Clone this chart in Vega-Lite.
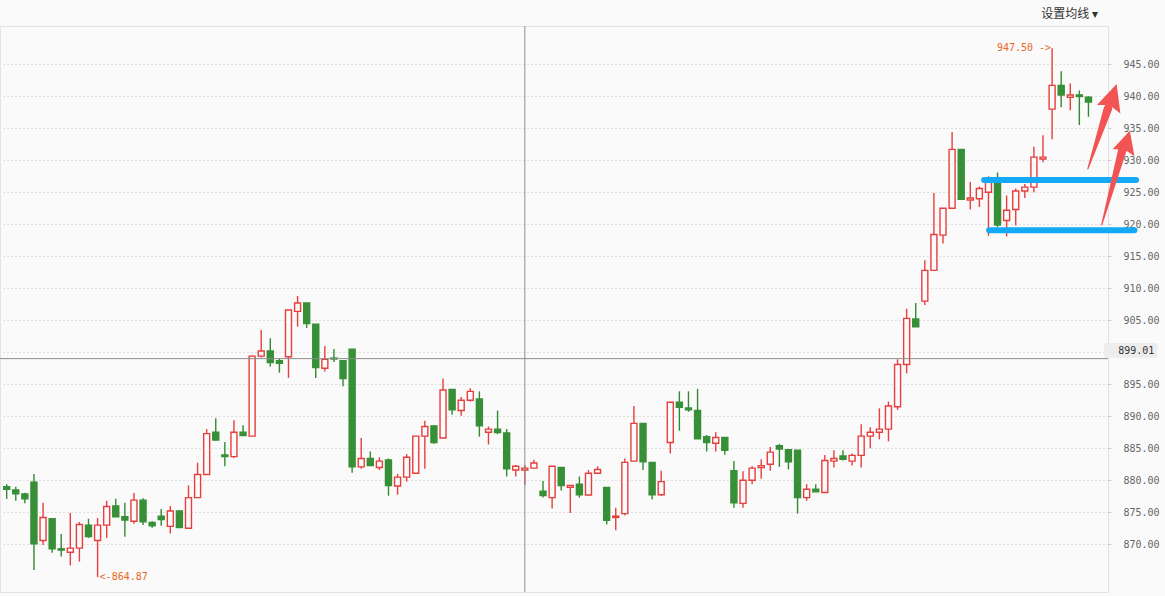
{
  "$schema": "https://vega.github.io/schema/vega-lite/v6.json",
  "width": 1108,
  "height": 566,
  "autosize": {"type": "none"},
  "padding": {"left": 0, "top": 26, "right": 57, "bottom": 4},
  "background": "#fafafa",
  "title": {"text": "设置均线 ▾", "anchor": "end", "frame": "group", "orient": "top", "offset": 5, "dx": -10, "font": "Noto Sans CJK SC", "fontSize": 12, "fontWeight": "normal", "color": "#333333"},
  "resolve": {"scale": {"x": "shared", "y": "shared"}, "axis": {"x": "independent", "y": "independent"}},
  "config": {
    "view": {"stroke": "#e4e4e4", "fill": "#fafafa"},
    "axisY": {"grid": true, "gridColor": "#c4c4c4", "gridDash": [1, 3], "gridWidth": 1, "domainColor": "#e0e0e0", "tickColor": "#cccccc", "tickSize": 3, "labelPadding": 12, "labelFont": "DejaVu Sans Mono", "labelFontSize": 10, "labelColor": "#666666", "labelBaseline": "middle", "labelAlign": "left", "labelOverlap": false}
  },
  "datasets": {
    "candles": [
      {"i":0,"o":879.0,"h":879.4,"l":877.1,"c":878.6},
      {"i":1,"o":878.5,"h":879.0,"l":876.8,"c":877.9},
      {"i":2,"o":877.86,"h":878.06,"l":876.4,"c":877.1},
      {"i":3,"o":879.7,"h":881.0,"l":866.0,"c":870.1},
      {"i":4,"o":870.6,"h":876.5,"l":869.9,"c":874.2},
      {"i":5,"o":874.0,"h":874.0,"l":868.7,"c":869.3},
      {"i":6,"o":869.3,"h":871.6,"l":868.1,"c":869.1},
      {"i":7,"o":868.75,"h":874.9,"l":866.7,"c":869.4},
      {"i":8,"o":869.4,"h":873.5,"l":867.3,"c":873.1},
      {"i":9,"o":873.0,"h":874.0,"l":871.0,"c":871.2},
      {"i":10,"o":870.6,"h":874.1,"l":864.87,"c":873.0},
      {"i":11,"o":873.0,"h":876.8,"l":871.0,"c":875.9},
      {"i":12,"o":876.0,"h":877.1,"l":874.3,"c":874.3},
      {"i":13,"o":874.3,"h":876.5,"l":871.2,"c":873.8},
      {"i":14,"o":873.6,"h":878.0,"l":873.2,"c":876.9},
      {"i":15,"o":876.9,"h":877.2,"l":873.0,"c":873.5},
      {"i":16,"o":873.4,"h":873.6,"l":872.6,"c":872.9},
      {"i":17,"o":874.4,"h":875.5,"l":872.9,"c":873.85},
      {"i":18,"o":872.8,"h":876.0,"l":871.7,"c":875.2},
      {"i":19,"o":875.2,"h":875.3,"l":872.6,"c":872.6},
      {"i":20,"o":872.5,"h":879.2,"l":872.5,"c":877.3},
      {"i":21,"o":877.3,"h":882.75,"l":877.3,"c":880.9},
      {"i":22,"o":880.9,"h":888.0,"l":880.9,"c":887.3},
      {"i":23,"o":887.5,"h":889.7,"l":886.2,"c":886.3},
      {"i":24,"o":883.95,"h":886.0,"l":882.2,"c":883.7},
      {"i":25,"o":883.7,"h":889.4,"l":883.5,"c":887.5},
      {"i":26,"o":887.5,"h":888.6,"l":887.0,"c":887.0},
      {"i":27,"o":886.9,"h":899.5,"l":886.9,"c":899.4},
      {"i":28,"o":899.4,"h":903.5,"l":899.2,"c":900.2},
      {"i":29,"o":900.2,"h":902.2,"l":897.75,"c":898.4},
      {"i":30,"o":898.7,"h":899.1,"l":896.8,"c":898.3},
      {"i":31,"o":899.3,"h":906.6,"l":896.0,"c":906.6},
      {"i":32,"o":906.4,"h":908.8,"l":904.0,"c":907.7},
      {"i":33,"o":907.7,"h":907.7,"l":903.8,"c":904.5},
      {"i":34,"o":904.4,"h":904.4,"l":896.0,"c":897.6},
      {"i":35,"o":897.5,"h":901.0,"l":897.0,"c":898.9},
      {"i":36,"o":899.1,"h":900.5,"l":898.5,"c":898.95},
      {"i":37,"o":898.7,"h":898.7,"l":894.7,"c":895.9},
      {"i":38,"o":900.5,"h":900.5,"l":881.2,"c":882.1},
      {"i":39,"o":882.1,"h":886.6,"l":881.8,"c":883.4},
      {"i":40,"o":883.4,"h":884.5,"l":882.3,"c":882.3},
      {"i":41,"o":882.0,"h":883.6,"l":881.6,"c":883.0},
      {"i":42,"o":883.2,"h":883.4,"l":877.6,"c":879.2},
      {"i":43,"o":879.1,"h":881.0,"l":877.75,"c":880.5},
      {"i":44,"o":880.5,"h":884.1,"l":879.8,"c":883.6},
      {"i":45,"o":881.1,"h":886.9,"l":881.1,"c":886.9},
      {"i":46,"o":886.9,"h":889.3,"l":881.8,"c":888.4},
      {"i":47,"o":888.5,"h":888.6,"l":885.7,"c":885.9},
      {"i":48,"o":886.6,"h":895.9,"l":886.6,"c":894.1},
      {"i":49,"o":894.2,"h":894.2,"l":890.25,"c":891.0},
      {"i":50,"o":890.9,"h":893.0,"l":890.1,"c":892.5},
      {"i":51,"o":892.5,"h":894.4,"l":892.3,"c":893.9},
      {"i":52,"o":892.7,"h":893.9,"l":886.8,"c":888.5},
      {"i":53,"o":887.5,"h":888.4,"l":885.6,"c":888.0},
      {"i":54,"o":888.0,"h":890.9,"l":887.2,"c":887.45},
      {"i":55,"o":887.4,"h":888.0,"l":880.6,"c":881.8},
      {"i":56,"o":881.6,"h":882.4,"l":880.6,"c":882.2},
      {"i":57,"o":881.6,"h":882.4,"l":879.3,"c":881.9},
      {"i":58,"o":881.9,"h":883.2,"l":881.9,"c":882.7},
      {"i":59,"o":878.3,"h":879.9,"l":877.3,"c":877.6},
      {"i":60,"o":877.3,"h":882.2,"l":875.6,"c":882.2},
      {"i":61,"o":882.0,"h":882.0,"l":878.4,"c":879.2},
      {"i":62,"o":878.9,"h":879.2,"l":874.9,"c":879.2},
      {"i":63,"o":879.4,"h":880.6,"l":877.3,"c":877.75},
      {"i":64,"o":877.7,"h":881.6,"l":877.7,"c":881.1},
      {"i":65,"o":881.1,"h":882.2,"l":881.1,"c":881.7},
      {"i":66,"o":878.9,"h":878.9,"l":873.1,"c":873.75},
      {"i":67,"o":874.2,"h":875.7,"l":872.2,"c":874.4},
      {"i":68,"o":874.8,"h":883.4,"l":874.5,"c":882.8},
      {"i":69,"o":883.0,"h":891.6,"l":883.0,"c":888.9},
      {"i":70,"o":888.9,"h":888.9,"l":881.6,"c":882.9},
      {"i":71,"o":882.8,"h":882.8,"l":877.0,"c":877.75},
      {"i":72,"o":877.75,"h":881.5,"l":877.6,"c":879.8},
      {"i":73,"o":885.9,"h":892.2,"l":884.2,"c":892.2},
      {"i":74,"o":892.2,"h":893.9,"l":887.75,"c":891.4},
      {"i":75,"o":891.3,"h":893.9,"l":890.7,"c":891.0},
      {"i":76,"o":890.9,"h":894.3,"l":886.5,"c":886.5},
      {"i":77,"o":886.8,"h":887.1,"l":884.5,"c":885.9},
      {"i":78,"o":885.8,"h":887.5,"l":884.5,"c":886.7},
      {"i":79,"o":886.7,"h":886.7,"l":884.0,"c":884.7},
      {"i":80,"o":881.5,"h":883.0,"l":875.7,"c":876.5},
      {"i":81,"o":876.4,"h":881.4,"l":875.7,"c":880.0},
      {"i":82,"o":880.0,"h":882.2,"l":879.4,"c":881.9},
      {"i":83,"o":882.0,"h":883.3,"l":880.25,"c":882.3},
      {"i":84,"o":882.5,"h":885.2,"l":881.5,"c":884.4},
      {"i":85,"o":885.4,"h":885.7,"l":882.1,"c":884.9},
      {"i":86,"o":884.8,"h":884.8,"l":881.7,"c":882.9},
      {"i":87,"o":884.7,"h":884.7,"l":874.8,"c":877.3},
      {"i":88,"o":877.3,"h":879.4,"l":876.8,"c":878.6},
      {"i":89,"o":878.6,"h":879.4,"l":878.2,"c":878.2},
      {"i":90,"o":878.1,"h":883.95,"l":878.1,"c":883.1},
      {"i":91,"o":883.0,"h":884.7,"l":882.0,"c":883.4},
      {"i":92,"o":883.8,"h":884.7,"l":883.1,"c":883.3},
      {"i":93,"o":883.0,"h":884.2,"l":882.3,"c":883.9},
      {"i":94,"o":883.9,"h":888.75,"l":882.0,"c":886.9},
      {"i":95,"o":886.9,"h":888.3,"l":885.0,"c":887.5},
      {"i":96,"o":887.5,"h":891.25,"l":886.4,"c":888.0},
      {"i":97,"o":888.0,"h":892.3,"l":886.1,"c":891.6},
      {"i":98,"o":891.5,"h":898.9,"l":891.0,"c":898.1},
      {"i":99,"o":898.1,"h":906.8,"l":896.7,"c":905.3},
      {"i":100,"o":905.2,"h":907.7,"l":904.0,"c":904.0},
      {"i":101,"o":908.0,"h":914.4,"l":907.4,"c":912.8},
      {"i":102,"o":912.8,"h":924.9,"l":912.8,"c":918.4},
      {"i":103,"o":918.3,"h":922.5,"l":917.0,"c":922.5},
      {"i":104,"o":922.5,"h":934.4,"l":922.5,"c":931.7},
      {"i":105,"o":931.7,"h":931.7,"l":923.9,"c":923.9},
      {"i":106,"o":923.8,"h":926.6,"l":922.3,"c":924.1},
      {"i":107,"o":924.0,"h":925.9,"l":922.7,"c":925.6},
      {"i":108,"o":925.0,"h":927.5,"l":918.2,"c":926.9},
      {"i":109,"o":926.4,"h":928.1,"l":919.6,"c":919.9},
      {"i":110,"o":920.6,"h":924.5,"l":918.1,"c":922.2},
      {"i":111,"o":922.3,"h":925.6,"l":919.8,"c":925.2},
      {"i":112,"o":925.2,"h":926.3,"l":924.1,"c":925.8},
      {"i":113,"o":925.8,"h":932.1,"l":925.0,"c":930.5},
      {"i":114,"o":930.2,"h":933.9,"l":929.7,"c":930.5},
      {"i":115,"o":938.0,"h":947.5,"l":933.3,"c":941.7},
      {"i":116,"o":941.7,"h":943.9,"l":938.3,"c":940.2},
      {"i":117,"o":939.85,"h":942.0,"l":937.8,"c":940.2},
      {"i":118,"o":940.2,"h":940.9,"l":935.5,"c":939.95},
      {"i":119,"o":939.85,"h":940.0,"l":936.8,"c":939.1}
    ]
  },
  "layer": [
    {
      "data": {"name": "candles"},
      "mark": {"type": "rule", "strokeWidth": 1.4},
      "encoding": {
        "x": {"field": "i", "type": "quantitative", "scale": {"domain": [-0.185, 120.6], "nice": false, "zero": false}, "axis": null, "title": null},
        "y": {"field": "l", "type": "quantitative", "title": null, "scale": {"domain": [862.55, 950.98], "nice": false, "zero": false},
              "axis": {"orient": "right", "values": [870, 875, 880, 885, 890, 895, 900, 905, 910, 915, 920, 925, 930, 935, 940, 945], "format": ".2f", "labelExpr": "datum.value == 900 ? '' : datum.label", "labelOverlap": false, "title": null}},
        "y2": {"field": "h"},
        "color": {"condition": {"test": "datum.c >= datum.o", "value": "#e83e3e"}, "value": "#318a31"}
      }
    },
    {
      "data": {"name": "candles"},
      "mark": {"type": "bar", "size": 6, "strokeWidth": 1.4},
      "encoding": {
        "x": {"field": "i", "type": "quantitative", "axis": null},
        "y": {"field": "o", "type": "quantitative", "axis": null},
        "y2": {"field": "c"},
        "fill": {"condition": {"test": "datum.c >= datum.o", "value": "#fafafa"}, "value": "#378f37"},
        "stroke": {"condition": {"test": "datum.c >= datum.o", "value": "#e83e3e"}, "value": "#378f37"}
      }
    },
    {
      "data": {"values": [{"i": 57}]},
      "mark": {"type": "rule", "color": "#8c8c8c", "strokeWidth": 1},
      "encoding": {"x": {"field": "i", "type": "quantitative", "axis": null}}
    },
    {
      "data": {"values": [{"v": 899.01}]},
      "mark": {"type": "rule", "color": "#8c8c8c", "strokeWidth": 1},
      "encoding": {"y": {"field": "v", "type": "quantitative", "axis": null}}
    },
    {
      "data": {"values": [{"x0": 107.52, "x1": 124.24, "v": 926.92}, {"x0": 108.07, "x1": 124.06, "v": 919.06}]},
      "mark": {"type": "rule", "color": "#14a9f4", "strokeWidth": 6, "strokeCap": "round"},
      "encoding": {
        "x": {"field": "x0", "type": "quantitative", "axis": null},
        "x2": {"field": "x1"},
        "y": {"field": "v", "type": "quantitative", "axis": null}
      }
    },
    {
      "data": {"values": [
        {"arrow": "a", "i": 118.93, "v": 928.64, "k": 0},
        {"arrow": "a", "i": 121.15, "v": 938.1, "k": 1},
        {"arrow": "b", "i": 120.46, "v": 919.9, "k": 0},
        {"arrow": "b", "i": 122.73, "v": 931.6, "k": 1}
      ]},
      "mark": {"type": "trail", "color": "#f25454"},
      "encoding": {
        "x": {"field": "i", "type": "quantitative", "axis": null},
        "y": {"field": "v", "type": "quantitative", "axis": null},
        "detail": {"field": "arrow"},
        "size": {"field": "k", "type": "quantitative", "scale": {"domain": [0, 1], "range": [1.2, 8.5]}, "legend": null}
      }
    },
    {
      "data": {"values": [{"i": 122.1, "v": 941.9}]},
      "mark": {"type": "point", "shape": "M0,0L0.5,1.02L0,0.85L-0.46,1Z", "size": 2704, "angle": 18.8, "filled": true, "opacity": 1, "color": "#f25454", "strokeWidth": 0},
      "encoding": {
        "x": {"field": "i", "type": "quantitative", "axis": null},
        "y": {"field": "v", "type": "quantitative", "axis": null}
      }
    },
    {
      "data": {"values": [{"i": 123.55, "v": 934.6}]},
      "mark": {"type": "point", "shape": "M0,0L0.52,1.02L0,0.85L-0.5,1Z", "size": 2025, "angle": 16.7, "filled": true, "opacity": 1, "color": "#f25454", "strokeWidth": 0},
      "encoding": {
        "x": {"field": "i", "type": "quantitative", "axis": null},
        "y": {"field": "v", "type": "quantitative", "axis": null}
      }
    },
    {
      "data": {"values": [{"i": 115, "v": 947.5, "t": "947.50 ->"}]},
      "mark": {"type": "text", "align": "right", "baseline": "middle", "dx": -1, "font": "DejaVu Sans Mono", "fontSize": 10, "color": "#e8671c"},
      "encoding": {
        "x": {"field": "i", "type": "quantitative", "axis": null},
        "y": {"field": "v", "type": "quantitative", "axis": null},
        "text": {"field": "t"}
      }
    },
    {
      "data": {"values": [{"i": 10, "v": 864.87, "t": "<-864.87"}]},
      "mark": {"type": "text", "align": "left", "baseline": "middle", "dx": 2, "font": "DejaVu Sans Mono", "fontSize": 10, "color": "#e8671c"},
      "encoding": {
        "x": {"field": "i", "type": "quantitative", "axis": null},
        "y": {"field": "v", "type": "quantitative", "axis": null},
        "text": {"field": "t"}
      }
    },
    {
      "data": {"values": [{"x0": 120.72, "x1": 126.57, "y0": 899.16, "y1": 901.45}]},
      "mark": {"type": "rect", "color": "#ededed", "cornerRadius": 2},
      "encoding": {
        "x": {"field": "x0", "type": "quantitative", "axis": null},
        "x2": {"field": "x1"},
        "y": {"field": "y0", "type": "quantitative", "axis": null},
        "y2": {"field": "y1"}
      }
    },
    {
      "data": {"values": [{"i": 122.27, "v": 899.01, "t": "899.01"}]},
      "mark": {"type": "text", "align": "left", "baseline": "middle", "dy": -8, "font": "DejaVu Sans Mono", "fontSize": 10, "color": "#333333"},
      "encoding": {
        "x": {"field": "i", "type": "quantitative", "axis": null},
        "y": {"field": "v", "type": "quantitative", "axis": null},
        "text": {"field": "t"}
      }
    }
  ]
}
